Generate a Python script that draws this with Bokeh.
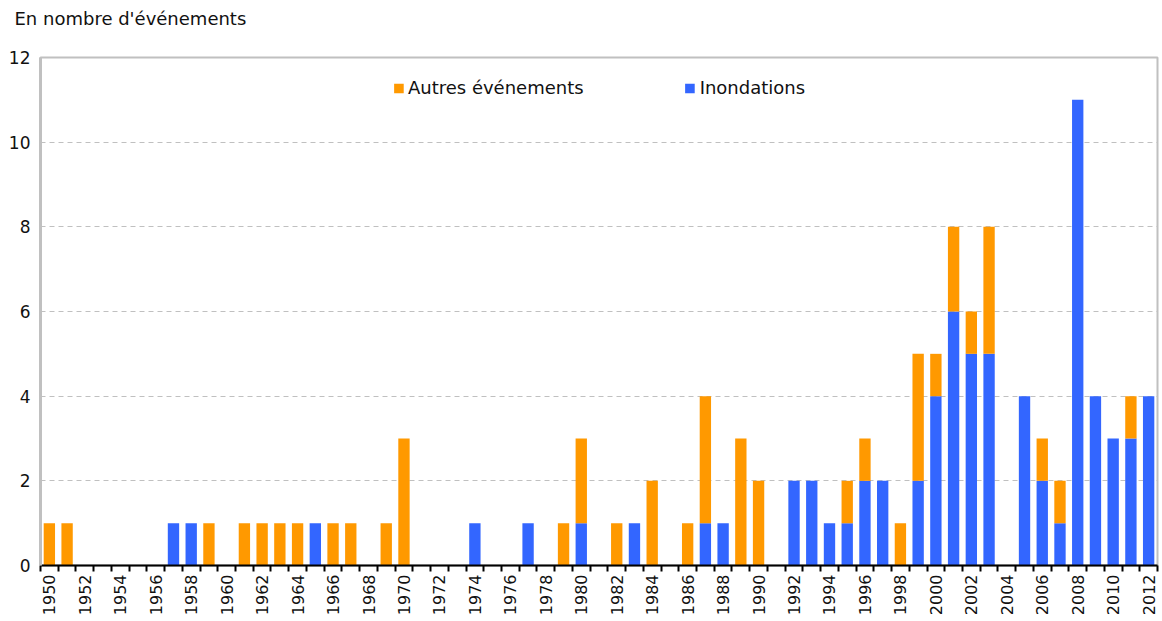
import math
from bokeh.plotting import figure
from bokeh.models import ColumnDataSource, FixedTicker, Legend, LegendItem, Range1d, Title
from bokeh.embed import file_html
from bokeh.resources import INLINE

years = list(range(1950, 2013))
inondations = [0, 0, 0, 0, 0, 0, 0, 1, 1, 0,
               0, 0, 0, 0, 0, 1, 0, 0, 0, 0,
               0, 0, 0, 0, 1, 0, 0, 1, 0, 0,
               1, 0, 0, 1, 0, 0, 0, 1, 1, 0,
               0, 0, 2, 2, 1, 1, 2, 2, 0, 2,
               4, 6, 5, 5, 0, 4, 2, 1, 11, 4,
               3, 3, 4]
autres = [1, 1, 0, 0, 0, 0, 0, 0, 0, 1,
          0, 1, 1, 1, 1, 0, 1, 1, 0, 1,
          3, 0, 0, 0, 0, 0, 0, 0, 0, 1,
          2, 0, 1, 0, 2, 0, 1, 3, 0, 3,
          2, 0, 0, 0, 0, 1, 1, 0, 1, 3,
          1, 2, 1, 3, 0, 0, 1, 1, 0, 0,
          0, 1, 0]
series_names = ["Inondations", "Autres événements"]
colors = ["#3366FF", "#FF9900"]
label_years = [y for y in years if y % 2 == 0]
y_ticks = [0, 2, 4, 6, 8, 10, 12]
title_text = "En nombre d'événements"

source = ColumnDataSource(dict(year=years, inond=inondations, autres=autres))

FONT = "DejaVu Sans"

p = figure(width=1160, height=619, output_backend="svg", toolbar_location=None,
           title=None,
           x_range=Range1d(years[0] - 0.5, years[-1] + 0.5),
           y_range=Range1d(y_ticks[0], y_ticks[-1]),
           min_border_left=40, min_border_right=3, min_border_top=57, min_border_bottom=54)

renderers = p.vbar_stack(["inond", "autres"], x="year", width=0.64, color=colors,
                         line_color=None, source=source)

legend = Legend(items=[LegendItem(label=series_names[1], renderers=[renderers[1]]),
                       LegendItem(label=series_names[0], renderers=[renderers[0]])],
                location="top_center", orientation="horizontal")
legend.border_line_color = None
legend.background_fill_alpha = 0
legend.glyph_width = 12
legend.glyph_height = 12
legend.label_text_font = FONT
legend.label_text_font_size = "18px"
legend.label_text_color = "#111111"
legend.label_standoff = 4
legend.spacing = 100
legend.padding = 0
legend.margin = 20
p.add_layout(legend, "center")

# spacer panel next to the frame, then the real title above it
spacer = Title(text=" ", text_font_size="2px", standoff=25)
p.add_layout(spacer, "above")
main_title = Title(text=title_text, text_font=FONT, text_font_size="18px",
                   text_font_style="normal", text_color="#111111",
                   align="left", vertical_align="bottom", offset=-26, standoff=0)
p.add_layout(main_title, "above")

# x axis
p.xaxis.ticker = FixedTicker(ticks=label_years,
                             minor_ticks=[y - 0.5 for y in years] + [years[-1] + 0.5])
p.xaxis.major_label_overrides = {y: str(y) for y in label_years}
p.xaxis.major_label_orientation = math.pi / 2
p.xaxis.major_tick_out = 0
p.xaxis.major_tick_in = 0
p.xaxis.minor_tick_out = 6
p.xaxis.minor_tick_in = 0
p.xaxis.minor_tick_line_width = 2
p.xaxis.minor_tick_line_color = "black"
p.xaxis.axis_line_color = "black"
p.xaxis.axis_line_width = 2
p.xaxis.major_label_text_font = FONT
p.xaxis.major_label_text_font_size = "16px"
p.xaxis.major_label_text_color = "#111111"
p.xaxis.major_label_standoff = 3

# y axis
p.yaxis.ticker = FixedTicker(ticks=y_ticks)
p.yaxis.major_tick_out = 0
p.yaxis.major_tick_in = 0
p.yaxis.minor_tick_out = 0
p.yaxis.minor_tick_in = 0
p.yaxis.axis_line_color = "#C0C0C0"
p.yaxis.axis_line_width = 3
p.yaxis.major_label_text_font = FONT
p.yaxis.major_label_text_font_size = "17px"
p.yaxis.major_label_text_color = "#111111"
p.yaxis.major_label_standoff = 10

# grid
p.xgrid.grid_line_color = None
p.ygrid.ticker = FixedTicker(ticks=y_ticks[1:-1])
p.ygrid.grid_line_color = "#C0C0C0"
p.ygrid.grid_line_dash = "5 4"
p.ygrid.grid_line_width = 1

p.outline_line_color = "#C0C0C0"
p.outline_line_width = 2
p.background_fill_color = "white"
p.border_fill_color = "white"

open("out.html", "w").write(file_html(p, INLINE))
